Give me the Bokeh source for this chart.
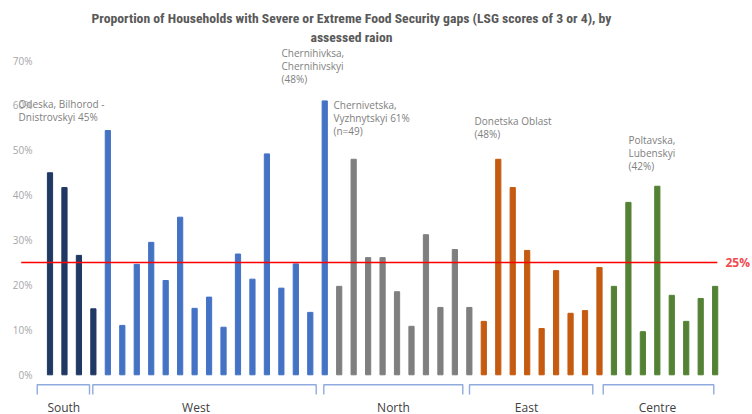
from bokeh.plotting import figure
from bokeh.models import Range1d, FixedTicker, PrintfTickFormatter, ColumnDataSource
from bokeh.core.properties import value
from bokeh.embed import file_html
from bokeh.resources import INLINE

# Share of households with LSG score 3 or 4, per assessed raion (%)
south = [45, 41.7, 26.6, 14.7]
west = [54.4, 11.0, 24.6, 29.5, 21.0, 35.1, 14.8, 17.3, 10.6, 26.9, 21.3, 49.2, 19.3, 24.7, 13.9, 61]
north = [19.7, 48, 26.1, 26.1, 18.5, 10.8, 31.2, 15.0, 27.9, 15.0]
east = [11.9, 48, 41.7, 27.7, 10.3, 23.2, 13.7, 14.3, 23.9]
centre = [19.7, 38.4, 9.6, 42, 17.7, 11.9, 17.0, 19.7]

groups = ["South", "West", "North", "East", "Centre"]
group_values = [south, west, north, east, centre]
group_colors = ["#203864", "#4472c4", "#7f7f7f", "#c55a11", "#548235"]

THRESHOLD = 25
y_ticks = [0, 10, 20, 30, 40, 50, 60, 70]

title_lines = ["Proportion of Households with Severe or Extreme Food Security gaps (LSG scores of 3 or 4), by",
               "assessed raion"]

notes = [
    ["Odeska, Bilhorod -", "Dnistrovskyi 45%"],
    ["Chernihivksa,", "Chernihivskyi", "(48%)"],
    ["Chernivetska,", "Vyzhnytskyi 61%", "(n=49)"],
    ["Donetska Oblast", "(48%)"],
    ["Poltavska,", "Lubenskyi", "(42%)"],
]

# ---- layout (screen pixels) ----
W, H = 752, 414
X0_PX, DX_PX = 49.5, 14.46          # centre of first bar, bar pitch
Y0_PX, DY_PX = 374.3, 4.49          # baseline, pixels per percent


def px_x(px):
    return (px - X0_PX) / DX_PX


def px_y(py):
    return (Y0_PX - py) / DY_PX


bracket_spans_px = [(36.7, 89), (92.3, 315.7), (323.3, 462.3), (469, 592.3), (602.7, 713.3)]
group_label_px = [63.3, 195.5, 393, 526, 657]
note_anchor_px = [(18, 103.3), (281, 52.7), (333, 104.3), (474, 120.7), (628, 139)]

xs, vals, cols = [], [], []
i = 0
for vlist, c in zip(group_values, group_colors):
    for v in vlist:
        xs.append(i)
        vals.append(v)
        cols.append(c)
        i += 1
n_bars = i

p = figure(width=W, height=H, output_backend="svg", toolbar_location=None,
           x_range=Range1d(px_x(0), px_x(W)),
           y_range=Range1d(px_y(H), px_y(0)),
           x_axis_location=None, min_border_left=0, min_border_right=0,
           min_border_top=0, min_border_bottom=0)
p.outline_line_color = None
p.xgrid.visible = False
p.ygrid.visible = False
p.background_fill_color = "white"

# percentage axis drawn over the left edge of the plotting area
ax = p.yaxis[0]
ax.ticker = FixedTicker(ticks=y_ticks)
ax.formatter = PrintfTickFormatter(format="%d%%")
ax.axis_line_color = None
ax.major_tick_line_color = None
ax.minor_tick_line_color = None
ax.major_tick_in = 0
ax.major_tick_out = 0
ax.major_label_standoff = -32
ax.major_label_text_font = "Open Sans"
ax.major_label_text_font_size = "10px"
ax.major_label_text_color = "#a6a6a6"

src = ColumnDataSource(dict(x=xs, v=vals, c=cols))
p.vbar(x="x", top="v", width=0.36, color="c", source=src)

# 25% reference line
p.line([px_x(20.7), n_bars - 1 + 0.15], [THRESHOLD, THRESHOLD], color="#ff0000", line_width=1.6)
p.text(x=[px_x(725)], y=[THRESHOLD], text=[f"{THRESHOLD}%"], text_align="left",
       text_baseline="middle", text_color="#f04a4f", text_font=value("Open Sans"),
       text_font_size="12px", text_font_style="bold")

# region brackets and names
bx, by = [], []
top_y, low_y = px_y(384.3), px_y(394)
for a, b in bracket_spans_px:
    bx.append([px_x(a), px_x(a), px_x(b), px_x(b)])
    by.append([low_y, top_y, top_y, low_y])
p.multi_line(bx, by, color="#8faadc", line_width=1.4)
p.text(x=[px_x(g) for g in group_label_px], y=[px_y(406.5)] * len(groups), text=groups,
       text_align="center", text_baseline="middle", text_color="#404040",
       text_font=value("Open Sans"), text_font_size="12px")

# call-out notes
nx, ny, nt = [], [], []
for lines, (ax_px, ay_px) in zip(notes, note_anchor_px):
    for k, line in enumerate(lines):
        nx.append(px_x(ax_px))
        ny.append(px_y(ay_px + 13 * k))
        nt.append(line)
p.text(x=nx, y=ny, text=nt, text_align="left", text_baseline="middle",
       text_color="#808080", text_font=value("Open Sans"), text_font_size="10px")

# title
p.text(x=[px_x(351)] * 2, y=[px_y(17.5), px_y(36)], text=title_lines,
       text_align="center", text_baseline="middle", text_color="#595959",
       text_font=value("'Roboto Condensed', 'Noto Sans Condensed', 'Liberation Sans Narrow', "
                       "'DejaVu Sans Condensed', 'Arial Narrow', sans-serif"),
       text_font_size="13.7px", text_font_style="bold")

open("out.html", "w").write(file_html(p, INLINE))
